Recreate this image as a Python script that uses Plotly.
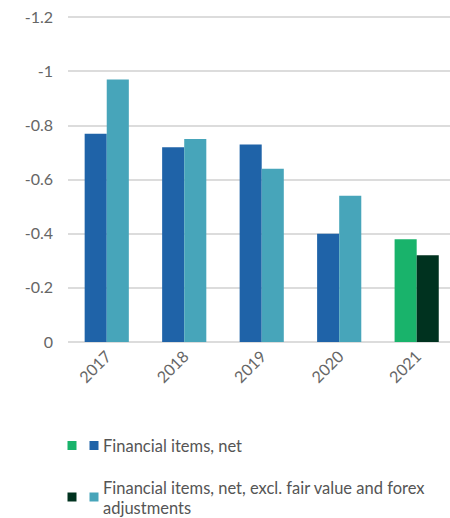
import plotly.graph_objects as go

# Financial items per year (negative values, axis drawn reversed)
years = ["2017", "2018", "2019", "2020", "2021"]
financial_items_net = [-0.77, -0.72, -0.73, -0.40, -0.38]
financial_items_excl_fx = [-0.97, -0.75, -0.64, -0.54, -0.32]

# Earlier years in blue tones, the latest year highlighted in green tones
net_colors = ["#1F63A8", "#1F63A8", "#1F63A8", "#1F63A8", "#19B36B"]
excl_colors = ["#47A5BA", "#47A5BA", "#47A5BA", "#47A5BA", "#00321F"]

legend_labels = [
    "Financial items, net",
    "Financial items, net, excl. fair value and forex adjustments",
]
# label lines as wrapped in the legend block
legend_lines = [
    ["Financial items, net"],
    ["Financial items, net, excl. fair value and forex", "adjustments"],
]
legend_swatches = [("#19B36B", "#1F63A8"), ("#00321F", "#47A5BA")]

y_ticks = [0, -0.2, -0.4, -0.6, -0.8, -1, -1.2]
y_tick_text = ["0", "-0.2", "-0.4", "-0.6", "-0.8", "-1", "-1.2"]

FONT = "Lato"
GREY = "#666666"

# plot area geometry in pixels (used to place the hand-made legend)
L, T, W, H = 68, 16, 382, 327


def px(x):
    return (x - L) / W


def py(y):
    return (T + H - y) / H


fig = go.Figure()
fig.add_trace(go.Bar(x=years, y=financial_items_net, name=legend_labels[0],
                     marker=dict(color=net_colors, line=dict(width=0))))
fig.add_trace(go.Bar(x=years, y=financial_items_excl_fx, name=legend_labels[1],
                     marker=dict(color=excl_colors, line=dict(width=0))))

fig.update_layout(
    width=450, height=518,
    margin=dict(l=L, r=450 - L - W, t=T, b=518 - T - H),
    paper_bgcolor="white", plot_bgcolor="white",
    barmode="group", bargap=0.43, bargroupgap=0,
    showlegend=False,
    font=dict(family=FONT, color=GREY, size=16),
)
fig.update_xaxes(
    range=[-0.5, 4.43], tickangle=-45, showgrid=False, showline=False,
    ticks="", tickfont=dict(size=16, color=GREY), zeroline=False,
)
fig.update_yaxes(
    range=[0.004, -1.205], tickvals=y_ticks, ticktext=y_tick_text,
    showgrid=True, gridcolor="#DCDCDC", gridwidth=2,
    zeroline=False, showline=False, ticks="",
    ticklabelstandoff=14, tickfont=dict(size=16, color=GREY),
)

# Custom legend: two colour swatches per series, then the label lines
swatch_centers = [445.5, 497]
line_centers = [[445], [487, 507]]
for (c1, c2), lines, sy, ly in zip(legend_swatches, legend_lines,
                                    swatch_centers, line_centers):
    for x0, col in ((67.5, c1), (89.5, c2)):
        fig.add_shape(type="rect", xref="paper", yref="paper",
                      x0=px(x0), x1=px(x0 + 9),
                      y0=py(sy + 4.5), y1=py(sy - 4.5),
                      fillcolor=col, line=dict(width=0))
    for text, yc in zip(lines, ly):
        fig.add_annotation(xref="paper", yref="paper",
                           x=px(102), y=py(yc + 1),
                           xanchor="left", yanchor="middle", align="left",
                           text=text, showarrow=False, borderpad=0,
                           font=dict(family=FONT, size=16.5, color="#555555"))

fig.write_html("out.html")
